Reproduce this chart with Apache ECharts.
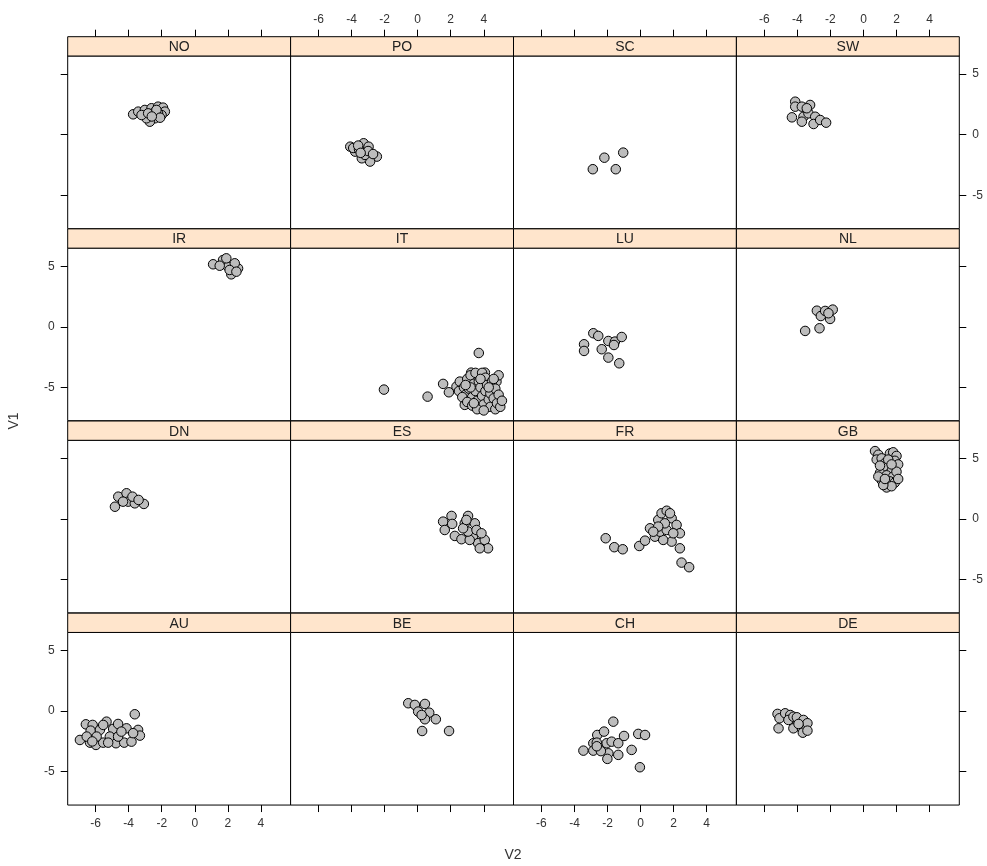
<!DOCTYPE html>
<html>
<head>
<meta charset="utf-8">
<script src="https://cdn.jsdelivr.net/npm/echarts@6/dist/echarts.min.js"></script>
<style>html,body{margin:0;padding:0;background:#fff;}#c{width:987px;height:866px;}</style>
</head>
<body>
<div id="c"></div>
<script>
// ---- panel layout (lattice order, top row first) ----
const panelRows = [
  ['NO','PO','SC','SW'],
  ['IR','IT','LU','NL'],
  ['DN','ES','FR','GB'],
  ['AU','BE','CH','DE']
];
const xTicks = [-6,-4,-2,0,2,4];
const yTicks = [-5,0,5];
const xRange = [-7.69, 5.8];
const yRange = [-7.75, 6.49];

// ---- data: [V2, V1] ----
const ptsNO = [[-3.73,1.68],[-3.42,1.9],[-3.02,2.04],[-2.62,2.18],[-2.22,2.31],[-1.92,2.23],[-1.81,1.9],[-2.01,1.62],[-2.42,1.35],[-2.72,1.07],[-2.92,1.35],[-3.22,1.62],[-2.52,1.76],[-2.82,1.76],[-2.22,1.76],[-2.32,2.04],[-2.1,1.4],[-2.6,1.5]];
const ptsPO = [[-4.08,-0.99],[-3.27,-0.71],[-2.97,-0.99],[-2.47,-1.81],[-2.88,-2.22],[-3.38,-1.95],[-3.78,-1.4],[-3.19,-1.67],[-3.9,-1.1],[-3.55,-1.2],[-3.6,-0.9],[-3.0,-1.35],[-2.7,-1.6],[-3.45,-1.5]];
const ptsSC = [[-2.89,-2.85],[-2.19,-1.9],[-1.5,-2.85],[-1.05,-1.48]];
const ptsSW = [[-4.13,2.72],[-4.13,2.31],[-4.33,1.43],[-3.73,2.31],[-3.23,2.45],[-3.63,1.48],[-3.73,1.07],[-3.33,1.76],[-2.92,1.48],[-3.02,0.88],[-2.62,1.21],[-2.26,0.99],[-3.43,2.18]];
const ptsIR = [[1.11,5.16],[1.71,5.51],[2.01,4.96],[2.21,4.33],[2.62,4.82],[1.51,5.04],[1.91,5.65],[2.42,5.24],[2.11,4.69],[2.52,4.55]];
const ptsIT = [[-2.04,-5.18],[0.6,-5.76],[3.7,-2.16],[1.54,-4.71],[1.89,-5.4],[2.35,-4.93],[2.55,-4.52],[3.24,-3.78],[4.07,-3.78],[4.77,-4.52],[2.85,-6.44],[4.97,-6.3],
  [2.5,-5.3],[2.8,-5.0],[2.9,-5.6],[3.0,-4.3],[3.1,-5.1],[3.2,-4.0],[3.3,-5.8],[3.4,-4.7],[3.5,-3.8],[3.5,-5.3],[3.6,-6.1],[3.7,-4.5],[3.8,-5.0],[3.9,-3.8],[3.9,-5.7],[4.0,-6.4],[4.1,-4.2],[4.1,-5.3],[4.2,-4.8],[4.3,-6.0],[4.4,-5.5],[4.4,-6.6],[4.5,-4.5],[4.6,-5.9],[4.7,-5.1],[4.7,-6.8],[4.8,-6.3],[4.9,-5.6],[5.0,-6.6],[5.1,-6.1],[4.9,-4.0],[2.7,-5.8],[3.0,-6.2],[3.3,-6.5],[3.6,-6.8],[4.0,-6.9],[3.2,-5.0],[3.8,-4.3],[4.3,-5.0],[4.6,-4.3],[3.4,-6.3],[2.9,-4.8]];
const ptsLU = [[-3.42,-1.44],[-3.42,-1.99],[-2.86,-0.53],[-2.56,-0.75],[-2.35,-1.85],[-1.95,-1.17],[-1.95,-2.54],[-1.55,-1.22],[-1.61,-1.5],[-1.14,-0.84],[-1.29,-3.01]];
const ptsNL = [[-3.53,-0.34],[-2.66,-0.12],[-2.82,1.33],[-2.58,0.89],[-2.32,1.31],[-2.02,0.65],[-1.86,1.42],[-2.12,1.12]];
const ptsDN = [[-4.83,1.01],[-4.63,1.84],[-4.13,2.12],[-4.03,1.43],[-3.63,1.29],[-3.08,1.24],[-3.77,1.84],[-4.34,1.43],[-3.4,1.57]];
const ptsES = [[1.54,-0.22],[2.05,0.25],[1.64,-0.91],[2.09,-0.41],[2.25,-1.4],[2.65,-1.67],[3.05,0.25],[2.85,-0.36],[3.46,-0.36],[3.35,-1.4],[3.66,-2.0],[4.06,-1.73],[4.26,-2.42],[3.76,-2.42],[3.15,-1.73],[3.05,-1.04],[3.56,-0.91],[3.86,-1.18],[2.75,-0.77],[2.95,-0.08]];
const ptsFR = [[-2.11,-1.59],[-1.59,-2.33],[-1.08,-2.5],[-0.08,-2.23],[0.27,-1.79],[0.57,-0.77],[0.87,-1.46],[1.07,-0.08],[1.27,0.47],[1.58,0.68],[1.88,0.06],[2.18,-0.49],[2.38,-1.18],[2.38,-2.42],[1.88,-1.87],[1.37,-1.73],[1.17,-1.05],[1.58,-0.91],[1.98,-1.18],[1.47,-0.36],[1.07,-0.63],[2.48,-3.6],[2.94,-3.98],[0.77,-1.05],[1.78,0.47]];
const ptsGB = [[0.7,5.6],[0.9,5.3],[0.8,4.9],[1.1,5.0],[1.3,4.6],[1.6,5.4],[1.8,5.5],[2.0,5.2],[1.9,4.8],[2.1,4.5],[1.5,4.2],[1.7,4.0],[1.2,4.3],[1.0,3.8],[1.4,3.6],[1.8,3.5],[2.0,3.9],[1.1,3.2],[1.3,2.9],[1.6,3.1],[1.9,3.0],[1.4,2.6],[1.7,2.7],[1.2,2.8],[2.1,3.3],[0.9,3.5],[1.5,4.9],[1.0,4.4],[1.7,4.5],[1.3,3.3]];
const ptsAU = [[-6.95,-2.38],[-6.59,-1.09],[-6.18,-1.14],[-6.3,-1.61],[-6.34,-2.6],[-5.98,-2.79],[-5.54,-2.6],[-5.34,-0.87],[-4.94,-1.47],[-4.77,-2.65],[-4.64,-1.06],[-4.13,-1.42],[-4.27,-2.6],[-3.63,-0.26],[-3.43,-1.55],[-3.32,-2.02],[-3.83,-2.52],[-5.74,-1.55],[-5.94,-2.1],[-5.14,-2.1],[-4.64,-2.1],[-5.54,-1.14],[-6.54,-2.1],[-4.44,-1.69],[-3.73,-1.82],[-5.24,-2.6],[-6.2,-2.5]];
const ptsBE = [[-0.57,0.65],[-0.17,0.51],[0.44,0.59],[0.03,-0.04],[0.7,-0.13],[0.44,-0.67],[1.1,-0.67],[0.27,-1.64],[1.9,-1.64],[0.24,-0.32]];
const ptsCH = [[-3.46,-3.26],[-2.86,-2.65],[-2.86,-3.26],[-2.62,-1.97],[-2.65,-2.6],[-2.45,-3.06],[-2.21,-1.69],[-2.05,-2.65],[-1.95,-3.48],[-2.01,-3.94],[-1.65,-0.87],[-1.75,-2.52],[-1.35,-2.65],[-1.35,-3.61],[-1.0,-2.05],[-0.54,-3.2],[-0.14,-1.88],[0.27,-1.97],[-0.04,-4.63],[-2.4,-3.3],[-2.65,-2.9]];
const ptsDE = [[-5.2,-0.23],[-5.14,-1.42],[-5.08,-0.59],[-4.74,-0.18],[-4.43,-0.32],[-4.54,-0.73],[-4.24,-0.46],[-4.03,-0.51],[-4.13,-1.28],[-4.24,-1.42],[-3.63,-0.73],[-3.73,-1.42],[-3.67,-1.78],[-3.39,-1.0],[-3.39,-1.61],[-3.93,-1.06]];

const panelData = {NO:ptsNO,PO:ptsPO,SC:ptsSC,SW:ptsSW,IR:ptsIR,IT:ptsIT,LU:ptsLU,NL:ptsNL,DN:ptsDN,ES:ptsES,FR:ptsFR,GB:ptsGB,AU:ptsAU,BE:ptsBE,CH:ptsCH,DE:ptsDE};

// ---- geometry ----
const L0 = 67.7, PW = 222.9, T0 = 56, RH = 192.15, PH = 172.6, SH = 19.3;
const FONT = 'Liberation Sans, Arial, sans-serif';
const labelStyle = {color:'#333', fontSize:12, fontFamily:FONT};
const noLine = {show:false, onZero:false};

const grids = [], xAxes = [], yAxes = [], series = [], graphics = [];

panelRows.forEach((row, r) => {
  row.forEach((name, c) => {
    const gi = grids.length;
    const left = L0 + c*PW, top = T0 + r*RH;
    grids.push({left:left, top:top, width:PW, height:PH, show:true, borderColor:'#000', borderWidth:1, backgroundColor:'#fff', containLabel:false});
    const xi = xAxes.length;
    xAxes.push({gridIndex:gi, type:'value', min:xRange[0], max:xRange[1], position:'bottom',
      axisLine:noLine, splitLine:{show:false},
      axisTick:{show:r===3, length:7, customValues:xTicks, lineStyle:{color:'#000'}},
      axisLabel:Object.assign({show:r===3 && c%2===0, customValues:xTicks, margin:13}, labelStyle)});
    if (r===0) {
      xAxes.push({gridIndex:gi, type:'value', min:xRange[0], max:xRange[1], position:'top', offset:SH,
        axisLine:noLine, splitLine:{show:false},
        axisTick:{show:true, length:7, customValues:xTicks, lineStyle:{color:'#000'}},
        axisLabel:Object.assign({show:c%2===1, customValues:xTicks, margin:11}, labelStyle)});
    }
    const yi = yAxes.length;
    yAxes.push({gridIndex:gi, type:'value', min:yRange[0], max:yRange[1], position:'left',
      axisLine:noLine, splitLine:{show:false},
      axisTick:{show:c===0, length:7, customValues:yTicks, lineStyle:{color:'#000'}},
      axisLabel:Object.assign({show:c===0 && r%2===1, customValues:yTicks, margin:13}, labelStyle)});
    if (c===3) {
      yAxes.push({gridIndex:gi, type:'value', min:yRange[0], max:yRange[1], position:'right',
        axisLine:noLine, splitLine:{show:false},
        axisTick:{show:true, length:7, customValues:yTicks, lineStyle:{color:'#000'}},
        axisLabel:Object.assign({show:r%2===0, customValues:yTicks, margin:13}, labelStyle)});
    }
    series.push({type:'scatter', xAxisIndex:xi, yAxisIndex:yi, data:panelData[name],
      symbol:'circle', symbolSize:9.5, silent:true,
      itemStyle:{color:'#bdbdbd', borderColor:'#000', borderWidth:1, opacity:1}});
    graphics.push({type:'rect', shape:{x:left, y:top-SH, width:PW, height:SH},
      style:{fill:'#ffe5cc', stroke:'#000', lineWidth:1}, z:10});
    graphics.push({type:'text', x:left+PW/2, y:top-SH/2+1,
      style:{text:name, textAlign:'center', textVerticalAlign:'middle', fontSize:14, fontFamily:FONT, fill:'#222'}, z:11});
  });
});

graphics.push({type:'text', x:14, y:421, rotation:Math.PI/2,
  style:{text:'V1', textAlign:'center', textVerticalAlign:'middle', fontSize:14, fontFamily:FONT, fill:'#333'}});
graphics.push({type:'text', x:513, y:855,
  style:{text:'V2', textAlign:'center', textVerticalAlign:'middle', fontSize:14, fontFamily:FONT, fill:'#333'}});

const chart = echarts.init(document.getElementById('c'), null, {renderer:'canvas'});
chart.setOption({
  animation:false,
  backgroundColor:'#fff',
  grid:grids, xAxis:xAxes, yAxis:yAxes, series:series, graphic:graphics
});
</script>
</body>
</html>
